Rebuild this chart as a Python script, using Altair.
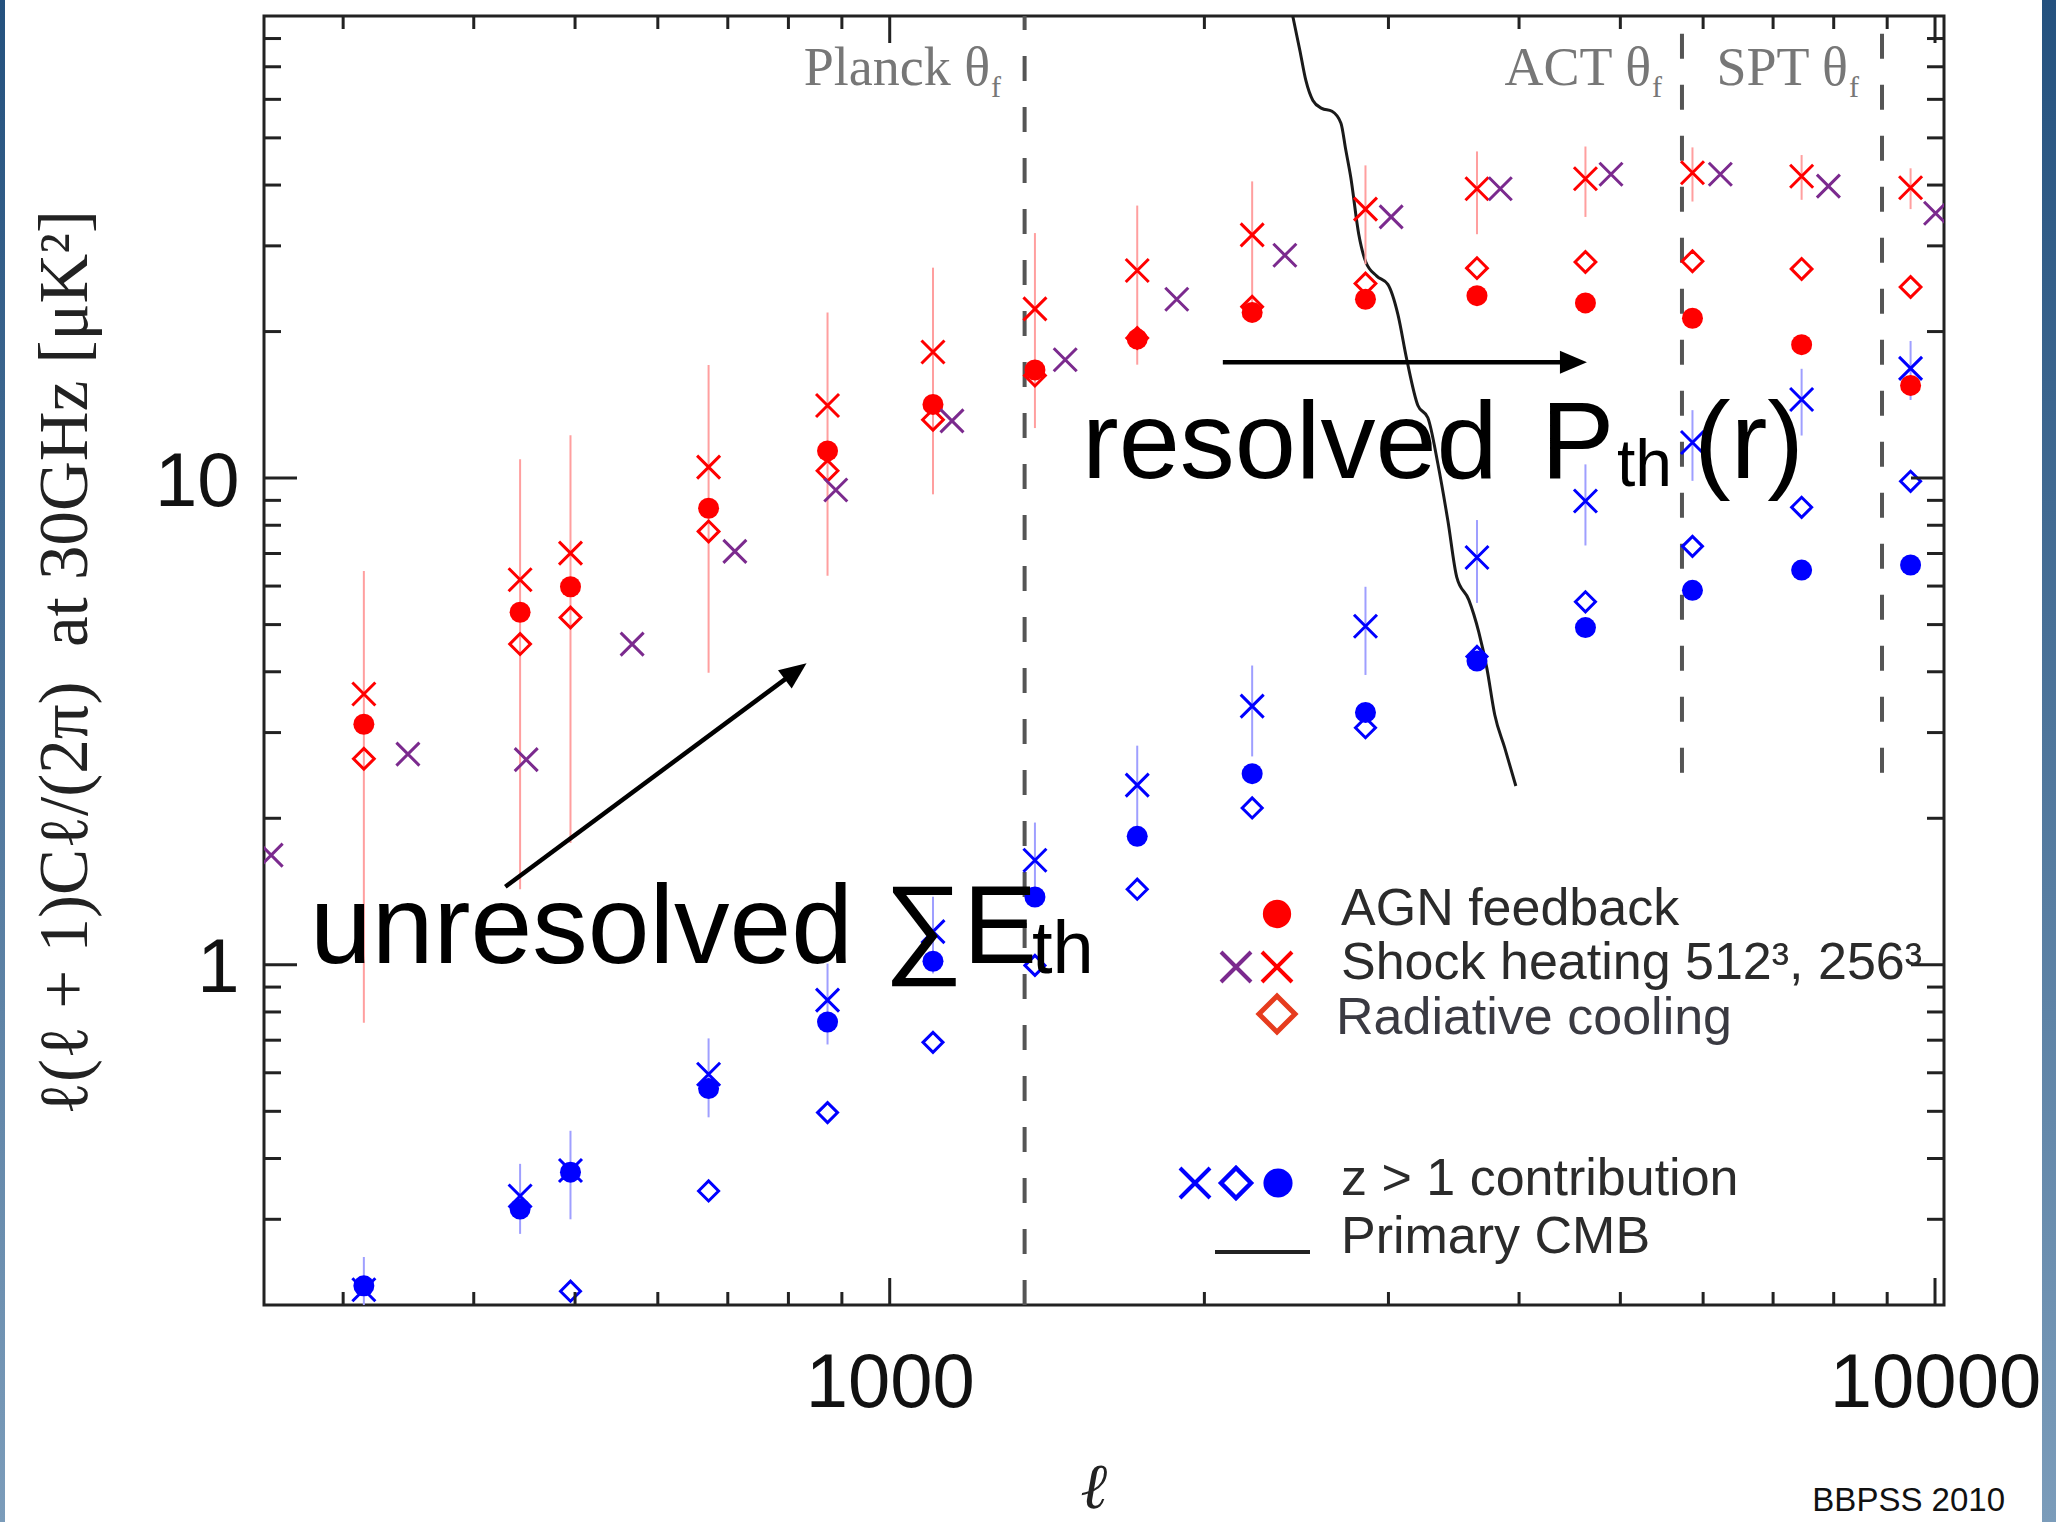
import altair as alt
import pandas as pd

# ------------------------------------------------------------------ data
# multipole bins of the 256^3 runs
bin_l = [314, 443, 495, 671, 872, 1100, 1377, 1725, 2222, 2852, 3646, 4630, 5861, 7454, 9476]
agn = [3.12, 5.30, 5.98, 8.67, 11.37, 14.17, 16.68, 19.3, 21.9, 23.3, 23.7, 22.9, 21.3, 18.8, 15.5]
radiative = [2.65, 4.56, 5.17, 7.77, 10.35, 13.18, 16.24, 19.4, 22.5, 25.1, 27.0, 27.8, 27.9, 26.9, 24.7]
shock256 = [3.60, 6.18, 7.01, 10.53, 14.1, 18.16, 22.27, 26.7, 31.6, 35.7, 39.3, 41.2, 42.4, 41.7, 39.5]
shock256_err = [2.84, 4.75, 5.23, 6.55, 7.8, 8.9, 9.6, 9.6, 9.1, 8.2, 7.6, 6.8, 5.4, 4.4, 3.8]

# 512^3 shock heating run
shock512_l = [256, 346, 449, 567, 711, 888, 1147, 1472, 1882, 2388, 3018, 3838, 4898, 6232, 7907, 10012]
shock512 = [1.68, 2.71, 2.64, 4.56, 7.07, 9.45, 13.11, 17.5, 23.3, 28.7, 34.4, 39.3, 42.1, 42.1, 39.8, 35.0]

# z > 1 contribution
z_shock = [0.215, 0.335, 0.378, 0.596, 0.846, 1.17, 1.64, 2.34, 3.40, 4.96, 6.87, 8.97, 11.83, 14.5, 16.8]
z_shock_err = [0.036, 0.055, 0.078, 0.11, 0.16, 0.21, 0.32, 0.48, 0.72, 1.02, 1.33, 1.7, 1.96, 2.27, 2.33]
z_agn = [0.219, 0.315, 0.375, 0.557, 0.763, 1.017, 1.378, 1.836, 2.47, 3.30, 4.21, 4.93, 5.88, 6.47, 6.63]
z_rad_l = [495, 671, 872, 1100, 1377, 1725, 2222, 2852, 3646, 4630, 5861, 7454, 9476]
z_rad = [0.2135, 0.343, 0.497, 0.693, 0.997, 1.43, 2.10, 3.07, 4.3, 5.57, 7.24, 8.71, 9.85]

# primary CMB
cmb_l = [2430, 2468, 2501, 2540, 2590, 2649, 2702, 2731, 2761, 2810, 2854, 2924, 2996,
         3063, 3124, 3201, 3272, 3345, 3420, 3487, 3581, 3660, 3726, 3792, 3876, 3972]
cmb_v = [88.9, 75.7, 65.6, 59.7, 57.5, 56.7, 53.6, 47.2, 41.5, 31.7, 27.8, 26.0, 25.0,
         21.7, 17.5, 14.1, 13.3, 10.7, 8.16, 6.26, 5.62, 4.83, 4.07, 3.26, 2.79, 2.33]

# experiment beam scales
theta_names = ["Planck θ", "ACT θ", "SPT θ"]
theta_l = [1346, 5727, 8898]
theta_lo = [0.2, 2.48, 2.48]
theta_hi = [89, 89, 89]

# annotation arrows (data coordinates): line start / end and head tip
arrow_l0 = [428.8, 2083]
arrow_v0 = [1.447, 17.3]
arrow_l1 = [803.9, 4444]
arrow_v1 = [3.937, 17.3]
arrow_tip_l = [832.6, 4645]
arrow_tip_v = [4.164, 17.3]
arrow_ang = [323.4, 0]

y_major = [1, 10]
y_minor = [0.3, 0.4, 0.5, 0.6, 0.7, 0.8, 0.9, 2, 3, 4, 5, 6, 7, 8, 9, 20, 30, 40, 50, 60, 70, 80]
x_major = [1000, 10000]
x_minor = [300, 400, 500, 600, 700, 800, 900, 2000, 3000, 4000, 5000, 6000, 7000, 8000, 9000]

# ------------------------------------------------------------------ style
W, H = 1680, 1289
FRAME = "#222222"
RED = "#ff0000"
RED_ERR = "#ff9f9f"
PURPLE = "#7b2a8e"
BLUE = "#0000ff"
BLUE_ERR = "#9f9fff"
XPATH = "M-1,-1L1,1M-1,1L1,-1"
HEAD = "M0,0L-2,-0.85L-2,0.85Z"

xscale = alt.Scale(type="log", domain=[252, 10200], nice=False)
yscale = alt.Scale(type="log", domain=[0.2, 89], nice=False)

xaxis = alt.Axis(values=x_major, format="d", title="ℓ", grid=False, ticks=False, tickSize=0,
                 domain=False, labelFont="Liberation Sans", labelFontSize=76, labelColor="#111111",
                 labelPadding=101, labelBaseline="alphabetic", labelFlush=False, labelOverlap=False,
                 labelBound=False, labelLimit=600, titleFont="Liberation Serif", titleFontStyle="italic",
                 titleFontWeight="normal", titleFontSize=64, titleColor="#222222",
                 titleX=829, titleY=202, titleBaseline="alphabetic", titleAlign="center")
yaxis = alt.Axis(values=y_major, format="d", title="ℓ(ℓ + 1)Cℓ/(2π)\u2002at 30GHz [μK²]", grid=False,
                 ticks=False, tickSize=0, domain=False, labelFont="Liberation Sans", labelFontSize=76,
                 labelColor="#111111", labelPadding=25, labelAlign="right", labelBaseline="middle",
                 labelOffset=4, labelFlush=False, labelOverlap=False, labelLimit=600,
                 titleFont="Liberation Serif", titleFontSize=69, titleFontWeight="normal",
                 titleColor="#222222", titleAngle=270, titleLimit=2000,
                 titleX=-178, titleY=646, titleBaseline="alphabetic", titleAlign="center")


def X(f="l"):
    return alt.X(f"{f}:Q", scale=xscale, axis=xaxis)


def Y(f="v"):
    return alt.Y(f"{f}:Q", scale=yscale, axis=yaxis)


one = pd.DataFrame({"k": [0]})
layers = []

# slide border strips
grad = alt.Gradient(gradient="linear", x1=0, x2=0, y1=0, y2=1,
                    stops=[alt.GradientStop(color="#24517e", offset=0),
                           alt.GradientStop(color="#7b9cba", offset=1)])
for xa, xb in [(-264, -259), (1778, 1792)]:
    layers.append(alt.Chart(one).mark_rect(fill=grad).encode(
        x=alt.value(xa), x2=alt.value(xb), y=alt.value(-16), y2=alt.value(1506)))

# dashed beam lines
theta_df = pd.DataFrame({"l": theta_l, "lo": theta_lo, "hi": theta_hi})
layers.append(alt.Chart(theta_df).mark_rule(color="#555555", strokeWidth=4, strokeDash=[25, 26]).encode(
    x=X(), y=Y("lo"), y2=alt.Y2("hi")))

# beam labels
lab_x = [726, 1387, 1584]
for name, lx in zip(theta_names, lab_x):
    layers.append(alt.Chart(one).mark_text(text=name, font="Liberation Serif", fontSize=54, color="#777777",
                                           align="right", baseline="alphabetic").encode(
        x=alt.value(lx), y=alt.value(69)))
    layers.append(alt.Chart(one).mark_text(text="f", font="Liberation Serif", fontSize=30, color="#777777",
                                           align="left", baseline="alphabetic").encode(
        x=alt.value(lx + 1), y=alt.value(81)))

# primary CMB
cmb_df = pd.DataFrame({"l": cmb_l, "v": cmb_v})
layers.append(alt.Chart(cmb_df).mark_line(color="#1a1a1a", strokeWidth=3, interpolate="monotone",
                                          clip=True).encode(x=X(), y=Y()))

# error bars
red_err = pd.DataFrame({"l": bin_l,
                        "lo": [c - e for c, e in zip(shock256, shock256_err)],
                        "hi": [c + e for c, e in zip(shock256, shock256_err)]})
blue_err = pd.DataFrame({"l": bin_l,
                         "lo": [c - e for c, e in zip(z_shock, z_shock_err)],
                         "hi": [c + e for c, e in zip(z_shock, z_shock_err)]})
layers.append(alt.Chart(red_err).mark_rule(color=RED_ERR, strokeWidth=2, clip=True).encode(
    x=X(), y=Y("lo"), y2=alt.Y2("hi")))
layers.append(alt.Chart(blue_err).mark_rule(color=BLUE_ERR, strokeWidth=2, clip=True).encode(
    x=X(), y=Y("lo"), y2=alt.Y2("hi")))


def pts(ls, vs, kind, color, size):
    df = pd.DataFrame({"l": ls, "v": vs})
    if kind == "dot":
        m = alt.Chart(df).mark_circle(color=color, size=size, opacity=1, clip=True)
    elif kind == "diamond":
        m = alt.Chart(df).mark_point(shape="diamond", filled=False, color=color, size=size,
                                     strokeWidth=3, opacity=1, clip=True)
    else:
        m = alt.Chart(df).mark_point(shape=XPATH, filled=False, color=color, size=size,
                                     strokeWidth=3, opacity=1, clip=True)
    return m.encode(x=X(), y=Y())


layers.append(pts(bin_l, radiative, "diamond", RED, 430))
layers.append(pts(bin_l, agn, "dot", RED, 441))
layers.append(pts(bin_l, shock256, "x", RED, 529))
layers.append(pts(shock512_l, shock512, "x", PURPLE, 529))
layers.append(pts(z_rad_l, z_rad, "diamond", BLUE, 400))
layers.append(pts(bin_l, z_agn, "dot", BLUE, 441))
layers.append(pts(bin_l, z_shock, "x", BLUE, 529))


# inward ticks on all four sides
def yt(vals, ln):
    df = pd.DataFrame({"v": vals})
    a = alt.Chart(df).mark_rule(color=FRAME, strokeWidth=3).encode(y=Y(), x=alt.value(0), x2=alt.value(ln))
    b = alt.Chart(df).mark_rule(color=FRAME, strokeWidth=3).encode(y=Y(), x=alt.value(W - ln), x2=alt.value(W))
    return [a, b]


def xt(vals, ln):
    df = pd.DataFrame({"l": vals})
    a = alt.Chart(df).mark_rule(color=FRAME, strokeWidth=3).encode(x=X(), y=alt.value(H - ln), y2=alt.value(H))
    b = alt.Chart(df).mark_rule(color=FRAME, strokeWidth=3).encode(x=X(), y=alt.value(0), y2=alt.value(ln))
    return [a, b]


layers += yt(y_major, 33) + yt(y_minor, 17) + xt(x_major, 27) + xt(x_minor, 13)

# arrows
arr_df = pd.DataFrame({"l": arrow_l0, "v": arrow_v0, "l2": arrow_l1, "v2": arrow_v1})
layers.append(alt.Chart(arr_df).mark_rule(color="black", strokeWidth=4.5).encode(
    x=X(), y=Y(), x2=alt.X2("l2"), y2=alt.Y2("v2")))
head_df = pd.DataFrame({"l": arrow_tip_l, "v": arrow_tip_v, "ang": arrow_ang})
layers.append(alt.Chart(head_df).mark_point(shape=HEAD, filled=True, color="black", size=729,
                                            opacity=1, strokeWidth=0).encode(
    x=X(), y=Y(), angle=alt.Angle("ang:Q", scale=None)))


def txt(s, x, y, size, color="black", font="Liberation Sans", align="left"):
    return alt.Chart(one).mark_text(text=s, font=font, fontSize=size, color=color, align=align,
                                    baseline="alphabetic").encode(x=alt.value(x), y=alt.value(y))


# big annotations
layers.append(txt("resolved", 818, 462, 110))
layers.append(txt("P", 1277, 462, 110))
layers.append(txt("th", 1353, 470, 66))
layers.append(txt("(r)", 1430, 462, 110))
layers.append(txt("unresolved ∑E", 46, 947, 111))
layers.append(txt("th", 768, 957, 74))


# legend
def lp(x, y, kind, color, size, sw=4):
    if kind == "dot":
        m = alt.Chart(one).mark_circle(color=color, size=size, opacity=1)
    elif kind == "diamond":
        m = alt.Chart(one).mark_point(shape="diamond", filled=False, color=color, size=size,
                                      strokeWidth=sw, opacity=1)
    else:
        m = alt.Chart(one).mark_point(shape=XPATH, filled=False, color=color, size=size,
                                      strokeWidth=sw, opacity=1)
    return m.encode(x=alt.value(x), y=alt.value(y))


layers.append(lp(1013, 898, "dot", RED, 800))
layers.append(lp(972, 951, "x", PURPLE, 900, 4))
layers.append(lp(1013, 951, "x", RED, 900, 4))
layers.append(lp(1013, 998, "diamond", "#e63c1e", 1300, 5))
layers.append(lp(931, 1167, "x", BLUE, 900, 4))
layers.append(lp(972, 1167, "diamond", BLUE, 900, 4.5))
layers.append(lp(1014, 1167, "dot", BLUE, 850))
layers.append(alt.Chart(one).mark_rule(color="#222222", strokeWidth=4).encode(
    x=alt.value(951), x2=alt.value(1046), y=alt.value(1236)))

layers.append(txt("AGN feedback", 1077, 909, 52, "#2b2b2b"))
layers.append(txt("Shock heating 512³, 256³", 1077, 963, 52, "#2b2b2b"))
layers.append(txt("Radiative cooling", 1072, 1018, 52, "#3a3a42"))
layers.append(txt("z > 1 contribution", 1077, 1179, 52, "#2b2b2b"))
layers.append(txt("Primary CMB", 1077, 1237, 52, "#2b2b2b"))

layers.append(txt("BBPSS 2010", 1741, 1495, 33, "#111111", align="right"))

chart = alt.layer(*layers).properties(
    width=W, height=H, background="white",
    autosize=alt.AutoSizeParams(type="none"),
    padding={"left": 264, "top": 16, "right": 112, "bottom": 217},
).configure_view(stroke=FRAME, strokeWidth=3)

chart.save("out.html", embed_options={"renderer": "svg", "actions": False})
